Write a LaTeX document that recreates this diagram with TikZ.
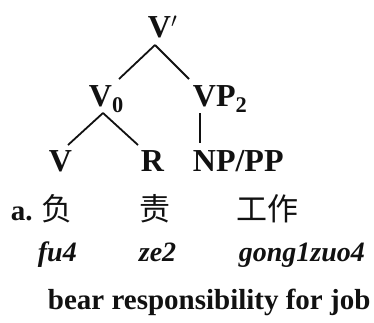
\documentclass[tikz,border=0pt]{standalone}
\usepackage{fontspec}
\setmainfont{Liberation Serif}
\newfontfamily\cjk{Noto Sans CJK SC}
\usetikzlibrary{positioning, calc}
\definecolor{figink}{HTML}{111111}

\begin{document}
\begin{tikzpicture}[
  x=1pt, y=-1pt,
  line width=1.8pt, line cap=butt, line join=round,
  cat/.style = {inner sep=0pt, anchor=base west, color=figink,
                font=\fontsize{32}{36}\selectfont\bfseries},
  chr/.style = {inner sep=0pt, anchor=base west, color=figink,
                font=\fontsize{31}{36}\selectfont\cjk},
  ex/.style  = {inner sep=0pt, anchor=base west, color=figink,
                font=\fontsize{29}{34}\selectfont\bfseries},
  pin/.style = {inner sep=0pt, anchor=base west, color=figink,
                font=\fontsize{28}{32}\selectfont\bfseries\itshape},
  gls/.style = {inner sep=0pt, anchor=base west, color=figink,
                font=\fontsize{29}{34}\selectfont\bfseries},
  branch/.style = {draw=figink}
]
\useasboundingbox (0,0) rectangle (374,322);

% tree
\node[cat] (vbar)  at (147,37)  {V\rlap{$'$}};
\node[cat] (vzero) at (88,106)  {V\textsubscript{0}};
\node[cat] (vptwo) at (192,106) {VP\textsubscript{2}};
\node[cat] (vleaf) at (48,171)  {V};
\node[cat] (rleaf) at (140,171) {R};
\node[cat] (nppp)  at (192,171) {NP/PP};

\draw[branch] ($(vbar.base west)+(8,8)$) -- ($(vzero.base west)+(31,-27)$);
\draw[branch] ($(vbar.base west)+(8,8)$) -- ($(vptwo.base west)+(-3,-27)$);
\draw[branch] ($(vzero.base west)+(15,7)$) -- ($(vleaf.base west)+(20,-26)$);
\draw[branch] ($(vzero.base west)+(15,7)$) -- ($(rleaf.base west)+(-2,-26)$);
\draw[branch] ($(vptwo.base west)+(8,7)$) -- ($(nppp.base west)+(8,-28)$);

% example line
\node[ex]  (exa) at (10,220)  {a.};
\node[chr] (fu)  at (41,220)  {负};
\node[chr] (ze)  at (139,220) {责};
\node[chr] (gz)  at (236,220) {工作};

\node[pin] (fupin) at (37,261)  {fu4};
\node[pin] (zepin) at (138,261) {ze2};
\node[pin] (gzpin) at (238,261) {gong1zuo4};

\node[gls] (gloss) at (47,309) {bear responsibility for job};

\end{tikzpicture}
\end{document}
